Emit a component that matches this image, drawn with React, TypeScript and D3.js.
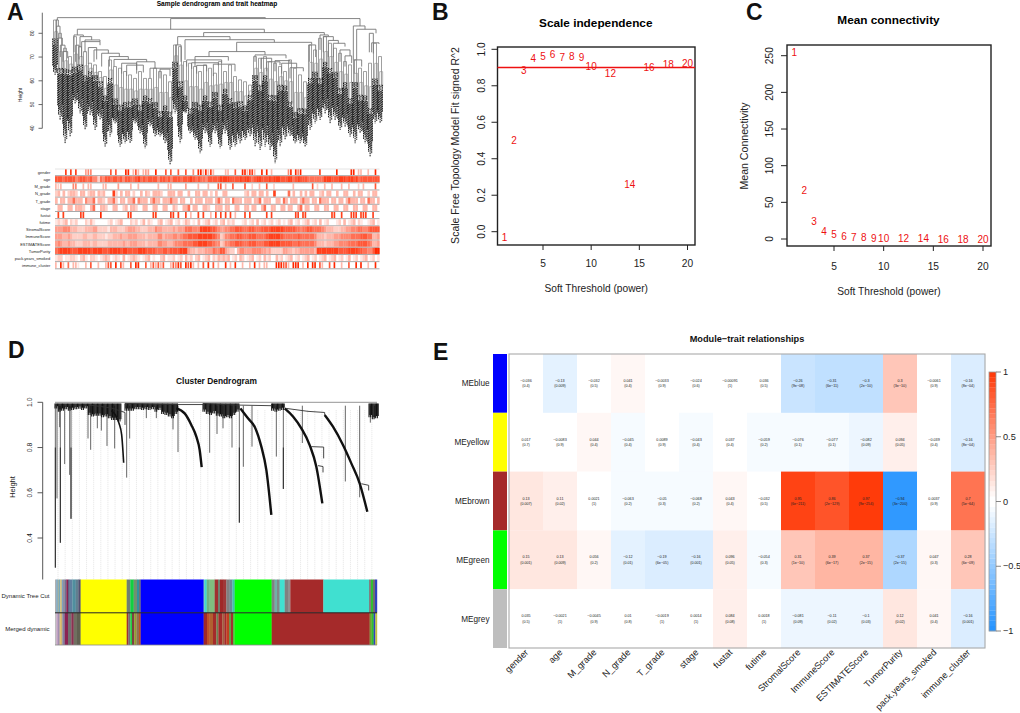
import React from "react";
import * as d3 from "d3";

const FONT = "'Liberation Sans', Arial, sans-serif";

/* ---------- Panel B / C ---------- */
const powers = [1, 2, 3, 4, 5, 6, 7, 8, 9, 10, 12, 14, 16, 18, 20];
const scaleFit = [-0.03, 0.5, 0.887, 0.95, 0.96, 0.97, 0.958, 0.96, 0.954, 0.908, 0.868, 0.26, 0.9, 0.918, 0.923];
const meanConn = [254, 67, 24.5, 11, 6.4, 4, 2.7, 1.8, 1.2, 0.9, 0.5, 0.3, 0.2, 0.1, 0.1];
const fitTicks = [0, 0.2, 0.4, 0.6, 0.8, 1];
const connTicks = [0, 50, 100, 150, 200, 250];
const powerTicks = [5, 10, 15, 20];

/* ---------- Panel E ---------- */
const modules = ["MEblue", "MEyellow", "MEbrown", "MEgreen", "MEgrey"];
const moduleColors = ["#0000FF", "#FFFF00", "#A52A2A", "#00FF00", "#BEBEBE"];
const traits = ["gender", "age", "M_grade", "N_grade", "T_grade", "stage", "fustat", "futime", "StromalScore", "ImmuneScore", "ESTIMATEScore", "TumorPurity", "pack.years_smoked", "immune_cluster"];
const corBlue = [-0.036, -0.13, -0.032, 0.041, -0.0033, -0.024, -0.00091, 0.036, -0.26, -0.31, -0.3, 0.3, -0.0061, -0.16];
const corYellow = [0.017, -0.0083, 0.044, -0.045, 0.0089, -0.043, 0.037, -0.059, -0.076, -0.077, -0.082, 0.094, -0.039, -0.16];
const corBrown = [0.13, 0.11, 0.0021, -0.063, -0.05, -0.068, 0.043, -0.032, 0.95, 0.86, 0.97, -0.94, 0.0037, 0.7];
const corGreen = [0.15, 0.13, 0.056, -0.12, -0.19, -0.16, 0.096, -0.054, 0.31, 0.39, 0.37, -0.37, 0.047, 0.28];
const corGrey = [0.035, -0.0021, -0.0045, 0.01, -0.0019, 0.0014, 0.084, 0.0018, -0.081, -0.11, -0.1, 0.12, 0.041, -0.16];
const pBlue = ["0.4", "0.009", "0.5", "0.4", "0.9", "0.6", "1", "0.5", "9e-08", "6e-11", "2e-10", "3e-10", "0.9", "8e-04"];
const pYellow = ["0.7", "0.9", "0.4", "0.4", "0.9", "0.4", "0.4", "0.2", "0.1", "0.1", "0.09", "0.05", "0.4", "8e-04"];
const pBrown = ["0.007", "0.02", "1", "0.2", "0.3", "0.2", "0.4", "0.5", "6e-211", "2e-129", "9e-254", "3e-200", "0.9", "5e-64"];
const pGreen = ["0.001", "0.009", "0.2", "0.01", "6e-05", "0.001", "0.05", "0.3", "1e-10", "6e-17", "2e-15", "2e-15", "0.3", "6e-09"];
const pGrey = ["0.5", "1", "0.9", "0.8", "1", "1", "0.08", "1", "0.09", "0.02", "0.03", "0.02", "0.4", "0.001"];
const corRows = [corBlue, corYellow, corBrown, corGreen, corGrey];
const pRows = [pBlue, pYellow, pBrown, pGreen, pGrey];
const barTicks = [1, 0.5, 0, -0.5, -1];

/* ---------- Panel A ---------- */
const heightTicks = [40, 50, 60, 70, 80];
const leafTops = [75.8, 64.6, 63.2, 63.9, 63.9, 66, 60.4, 63.2, 60.4, 58.9, 51.9, 60.4, 50.5, 49.1, 49.1, 50.5, 50.5, 49.1, 51.9, 51.9, 49.1, 46.3, 47.7, 46.3, 66, 58.9, 51.9, 47.7, 49.1, 49.1, 51.9, 50.5, 53.3, 49.1, 54.7, 51.9, 49.1, 50.5, 47.7, 53.3, 60.4, 57.5, 60.4, 53.3, 51.9, 57.5, 56.1, 50.5, 44.9, 47.7, 46.3, 60.4, 61.8, 60.4, 66, 64.6, 61.8, 56.1, 57.5, 51.9, 57.5, 53.3, 51.9, 47.7, 58.9, 57.5];
const leafBottoms = [62.5, 43.5, 33.7, 36.5, 50.5, 46.3, 39.3, 45.6, 39.3, 43.5, 32.3, 36.5, 42.1, 32.3, 33.7, 33.7, 42.1, 37.9, 31.6, 40.7, 36.5, 36.5, 33.7, 24.6, 46.3, 33.7, 46.3, 37.9, 35.1, 29.5, 37.9, 32.3, 37.9, 31.6, 37.9, 30.9, 32.3, 33.7, 35.1, 36.5, 32.3, 30.9, 32.3, 30.9, 25.3, 32.3, 35.1, 36.5, 33.7, 33.7, 32.3, 39.3, 42.1, 43.5, 46.3, 42.1, 43.5, 39.3, 40.7, 36.5, 33.7, 37.9, 33.7, 28.1, 42.1, 42.1];
const stemTops = [85.6, 80, 73.7, 70.2, 78.6, 74.4, 72.3, 67.4, 66.7, 63.9, 61.8, 68.8, 66, 65.3, 63.9, 62.5, 61, 63.9, 61, 61, 65.3, 63.9, 62.5, 59.6, 75.1, 74.4, 68.1, 67.4, 66, 63.9, 66.7, 65.3, 63.2, 68.1, 63.9, 66.7, 61.8, 60.4, 59.6, 58.2, 70.2, 69.5, 70.2, 68.1, 67.4, 66, 63.9, 68.8, 65.3, 62.5, 59.6, 75.1, 73, 77.9, 78.6, 75.8, 73.7, 71.6, 68.1, 66.7, 68.8, 65.3, 63.9, 67.4, 75.8, 70.2];
// [left rank, right rank, merge height, left child height, right child height]
const sampleLinks = [
  [7, 631, 86.6, 85.6, 86.2], [347, 915, 86.2, 81.7, 83.1], [67, 628, 81.7, 79.3, 80.3],
  [3, 10, 85.6, 75.8, 83], [5, 15, 83, 74, 78], [10, 22, 78, 72, 75], [16, 30, 75, 70, 72.3], [24, 38, 72.3, 68, 69.5],
  [57, 85, 79.3, 72, 78.6], [75, 110, 78.6, 74, 77.2], [90, 135, 77.2, 72, 76.5], [62, 72, 75, 68, 69], [80, 135, 76.5, 70, 75],
  [117, 160, 73, 68, 71.6], [140, 193, 71.6, 66, 70.2], [163, 220, 70.2, 66, 69], [177, 275, 69, 66, 68], [200, 245, 67.4, 63, 64.6],
  [245, 300, 68, 63, 65.3], [285, 360, 65.3, 61, 64.9], [315, 345, 64.9, 61, 62], [215, 265, 66.6, 62, 63.5], [100, 125, 74, 67, 69],
  [446, 808, 80.3, 78.6, 79.3], [368, 525, 78.6, 75.1, 77.3], [390, 658, 77.3, 68.8, 76.2], [545, 770, 76.2, 72.3, 75.3],
  [462, 630, 72.3, 70.2, 70.9], [600, 693, 70.9, 68, 69.5], [362, 378, 75.1, 68, 68], [395, 500, 68.8, 66, 67.6],
  [410, 490, 67.6, 65, 66.5], [425, 455, 66.5, 63, 64], [420, 520, 70.2, 66, 68.5], [475, 540, 67, 62, 64], [618, 650, 69.5, 65, 68],
  [635, 675, 68, 64, 66.6], [660, 705, 68.5, 64, 67.4], [680, 725, 67.4, 63, 65.5], [705, 745, 65.5, 61, 64],
  [763, 782, 75.1, 68, 70], [795, 820, 79.3, 73, 78.6], [805, 835, 78.6, 72, 77], [820, 850, 77, 70, 75.8], [835, 870, 75.8, 70, 74.4],
  [855, 885, 73, 68, 70.5], [870, 890, 70.5, 66, 67.5],
  [895, 930, 83.1, 68.8, 81.7], [905, 963, 81.7, 68.8, 80], [898, 920, 68.8, 63, 66], [950, 972, 76, 72, 75.5], [943, 955, 80, 72, 71.5]
];
const heatLabels = ["gender", "age", "M_grade", "N_grade", "T_grade", "stage", "fustat", "futime", "StromalScore", "ImmuneScore", "ESTIMATEScore", "TumorPurity", "pack.years_smoked", "immune_cluster"];
const sparseRows = ["gender", "fustat", "M_grade", "immune_cluster"];
const heatLeft = [
  "000080808000455000000070700099037303440090007070070070050993938300",
  "777677775677667552657767767577667867677775776757776777876766577777",
  "323000055003033000033000040000300300000003000330000040000300030007",
  "230302332033023303230008203033020030320333200333033003003303302030",
  "303303363330533603320336203303360533303633033363303300303330333036",
  "033003303332003600332003300230332003300330033003200336033003320033",
  "080800000088000000900000000008800000000880000088080080300808003080",
  "121230212000213100000120123000212013021002301230120132010301230120",
  "444555333222333442222133322234443322233354433334344466655588887765",
  "444334322223322332221223334334444333233335534445545667777888888765",
  "454334332223332332222333333433444333233335544334555666677888877655",
  "678888777888887888877788887887777888777766677677778884332333444655",
  "122011221023102210123201210301232101230100230112012031202301230213",
  "309306033100307003003770907300709900703737370037597097930307090703"
];
const heatRight = [
  "003300700993883009090300000059095900000008000000900000990330030090",
  "888877778788767887778788877788678777666666688877788878878677777777",
  "703007000070020030070020000000300000007020030030003003000203000070",
  "033000000023033033030080000060300303033002303300300330030330020330",
  "303306333033303360333003306303330363303306333033033036333033063303",
  "303300330033033003600330033033003603300330033003300330033003300330",
  "808080300080800000080800000000088088000000000088008000888088800800",
  "230212000120120301201201201023012012301203012000120301230210012301",
  "445566777666776667777888887777766566776666543332223344555665567777",
  "235566677666777666678888876666667666666533323334445555666677766334",
  "235566777666777666778888877777667666666533323334455556666777765334",
  "774322035544455554434222224433233444444388888888877778888776655799",
  "232301203201230120312003120123012012301201230123012013012012301201",
  "009030900300309030330009997730999030909907300709003007009090030090"
];

/* ---------- Panel D ---------- */
const clusterTicks = [0.4, 0.6, 0.8, 1];
const fringePos = [166, 176, 186, 196, 206, 216, 226, 236, 246, 256, 266, 276, 286, 296, 306, 316, 326, 336, 346, 356, 376, 386, 396, 406, 416, 426, 436, 446, 456, 466, 476, 486, 496, 506, 516, 526, 610, 620, 630, 640, 650, 660, 670, 680, 690, 700, 710, 816, 826, 836, 846, 1108, 1118, 1128];
const fringeBottom = [0.973, 0.958, 0.963, 0.969, 0.963, 0.966, 0.969, 0.971, 0.966, 0.973, 0.944, 0.937, 0.94, 0.94, 0.934, 0.937, 0.929, 0.922, 0.922, 0.915, 0.963, 0.963, 0.963, 0.969, 0.969, 0.966, 0.969, 0.966, 0.969, 0.958, 0.966, 0.948, 0.944, 0.937, 0.929, 0.948, 0.958, 0.948, 0.944, 0.951, 0.94, 0.937, 0.929, 0.934, 0.929, 0.944, 0.958, 0.963, 0.958, 0.963, 0.966, 0.934, 0.925, 0.929];
const spikePos = [167, 172, 180, 182, 195, 210, 214, 265, 273, 293, 305, 322, 345, 381, 390, 440, 470, 520, 535, 630, 652, 670, 697, 719, 731, 757, 830, 851, 908, 1037, 1080, 1112, 1125];
const spikeLow = [0.269, 0.575, 0.89, 0.379, 0.727, 0.679, 0.485, 0.84, 0.79, 0.885, 0.875, 0.807, 0.796, 0.667, 0.84, 0.93, 0.93, 0.88, 0.78, 0.777, 0.86, 0.885, 0.8, 0.468, 0.715, 0.804, 0.76, 0.617, 0.82, 0.65, 0.58, 0.91, 0.93];
const spikeDark = [167, 182, 214, 719, 851];
const yellowBranch = [[335, 0.963], [350, 0.937], [358, 0.907], [366, 0.856], [372, 0.733]];
const blueBranch = [[530, 0.973], [555, 0.951], [575, 0.9], [590, 0.848], [600, 0.789], [606, 0.713]];
const greenBranch = [[722, 0.973], [745, 0.929], [765, 0.892], [785, 0.804], [800, 0.701], [815, 0.502]];
const brownBranch = [[855, 0.973], [880, 0.937], [905, 0.885], [930, 0.811], [950, 0.715], [968, 0.553]];
const turquoiseBranch = [[975, 0.944], [1000, 0.892], [1030, 0.811], [1055, 0.73], [1080, 0.642], [1103, 0.516]];
const connectors = [
  [[270, 0.988], [335, 0.975], [376, 0.955], [376, 0.9]], [[860, 0.973], [925, 0.96], [975, 0.955], [975, 0.944]],
  [[610, 0.995], [705, 0.988], [815, 0.985]], [[935, 0.804], [972, 0.802], [972, 0.752]], [[955, 0.72], [970, 0.716], [970, 0.69]],
  [[1085, 0.64], [1107, 0.633], [1107, 0.61]], [[376, 0.995], [530, 0.99], [610, 0.99]]
];
const treeCutStripes: [number, string][] = [
  [170, "#b0b0b0"], [174, "#70a0c0"], [178, "#a0b0a0"], [182, "#77aabb"], [186, "#e0c060"], [190, "#80a0c0"], [195, "#9090a0"], [200, "#707090"], [205, "#8b2252"], [210, "#606080"], [218, "#5f7f9f"], [228, "#4f8f9f"], [236, "#607f8f"], [243, "#505070"],
  [381, "#FFFF00"], [392, "#708070"], [402, "#10d040"], [412, "#709070"], [418, "#3090a0"], [423, "#707070"], [612, "#0000FF"],
  [616, "#70d0c0"], [621, "#40d8d0"], [630, "#70b080"], [645, "#80bf80"], [655, "#a03030"], [661, "#708070"], [670, "#a02828"], [680, "#a03838"], [690, "#808080"], [698, "#6a8a9a"], [705, "#40c0b0"],
  [816, "#00FF00"], [825, "#808080"], [832, "#70b0a8"], [840, "#808888"], [855, "#40E0D0"], [865, "#808080"], [872, "#909090"],
  [971, "#A52A2A"], [1108, "#40E0D0"], [1114, "#808080"], [1120, "#30c030"], [1126, "#707070"], [1132, "#3040c0"]
];
const mergedStripes: [number, string][] = [
  [170, "#c0c0c0"], [175, "#c0a0c0"], [180, "#a090b0"], [184, "#e0c070"], [188, "#d0b070"], [195, "#8080a0"], [205, "#8b2252"], [215, "#707070"], [222, "#8b3050"], [232, "#707060"], [243, "#606050"],
  [381, "#FFFF00"], [386, "#a03030"], [392, "#707070"], [397, "#20d040"], [404, "#804040"], [410, "#90a030"], [418, "#907050"], [423, "#c05020"], [612, "#0000FF"],
  [622, "#a02828"], [630, "#c05028"], [640, "#b06030"], [650, "#a52a2a"], [656, "#708050"], [668, "#a52a2a"], [674, "#a06040"], [680, "#a52a2a"], [688, "#c04020"], [694, "#709050"], [700, "#a03030"], [705, "#50c040"],
  [816, "#00FF00"], [1110, "#A52A2A"], [1116, "#70a030"], [1122, "#30c030"], [1127, "#3040c0"], [1132, "#c0c040"]
];

/* ---------- Scales ---------- */
const fmtNum = (v: number) => String(v).replace("-", "\u2212");
const cellColor = (v: number) => {
  const t = Math.trunc(v / 0.04) * 0.04;
  return t >= 0 ? d3.interpolateRgb("#FFFFFF", "#FF3300")(t) : d3.interpolateRgb("#FFFFFF", "#1E90FF")(-t);
};
const heatColor = (n: number) => d3.interpolateRgb("#FFFFFF", "#FF2800")(n / 9);

const xB = d3.scaleLinear().domain([5, 20]).range([543, 687.5]);
const yB = d3.scaleLinear().domain([0, 1]).range([231.7, 49.3]);
const xC = d3.scaleLinear().domain([5, 20]).range([834, 983]);
const yC = d3.scaleLinear().domain([0, 250]).range([239, 55.7]);
const xE = d3.scaleBand<string>().domain(traits).range([509, 985]);
const yE = d3.scaleBand<string>().domain(modules).range([354, 648]);
const yBar = d3.scaleLinear().domain([-1, 1]).range([631, 372]);
const xA = d3.scaleLinear().domain([0, 975]).range([55, 380]);
const yA = d3.scaleLinear().domain([40, 80]).range([128.3, 33.3]);
const yHeat = d3.scaleBand<string>().domain(heatLabels).range([169, 269.3]);
const xD = d3.scaleLinear().domain([166, 1132]).range([55, 377]);
const yD = d3.scaleLinear().domain([0.4, 1]).range([538, 402.3]);
const guides = d3.range(175, 1132, 21.4);
const lineD = d3.line<number[]>().x((p) => xD(p[0])).y((p) => yD(p[1])).curve(d3.curveLinear);
const curveD = d3.line<number[]>().x((p) => xD(p[0])).y((p) => yD(p[1])).curve(d3.curveMonotoneX);
const barLevels = d3.range(-1, 1, 0.04);

const Label = (p: any) => <text fontFamily={FONT} fill="#000" {...p} />;

function ScatterPanel({ title, titleY, x, y, values, yTicks, box, yTickX, yLabel, yLabelX, yLabelY, xTickY, xLabelY, hline, tickFmt, tickSize, yLabelSize }: any) {
  const cx = (box[0] + box[2]) / 2;
  return (
    <g fontFamily={FONT}>
      <rect x={box[0]} y={box[1]} width={box[2] - box[0]} height={box[3] - box[1]} fill="none" stroke="#222" strokeWidth={1.4} />
      <Label x={cx - 0.5} y={titleY} textAnchor="middle" fontSize={11.8} fontWeight="bold">{title}</Label>
      {powerTicks.map((t) => (
        <g key={t}>
          <line x1={x(t)} x2={x(t)} y1={box[3]} y2={box[3] + 5} stroke="#222" strokeWidth={1} />
          <Label x={x(t)} y={xTickY} textAnchor="middle" fontSize={tickSize} fill="#222">{t}</Label>
        </g>
      ))}
      {yTicks.map((t: number) => (
        <g key={t}>
          <line x1={box[0] - 6} x2={box[0]} y1={y(t)} y2={y(t)} stroke="#222" strokeWidth={1} />
          <Label transform={`translate(${yTickX},${y(t)}) rotate(-90)`} textAnchor="middle" fontSize={tickSize} fill="#222">{tickFmt(t)}</Label>
        </g>
      ))}
      <Label x={cx} y={xLabelY} textAnchor="middle" fontSize={10.2} fill="#222">Soft Threshold (power)</Label>
      <Label transform={`translate(${yLabelX},${yLabelY}) rotate(-90)`} textAnchor="middle" fontSize={yLabelSize} fill="#222">{yLabel}</Label>
      {hline !== undefined && <line x1={box[0]} x2={box[2]} y1={y(hline)} y2={y(hline)} stroke="#EE1111" strokeWidth={1.4} />}
      {powers.map((pw, i) => (
        <text key={pw} x={x(pw)} y={y(values[i]) + 3.7} textAnchor="middle" fontSize={10} fill="#EE1111" fontFamily={FONT}>{pw}</text>
      ))}
    </g>
  );
}

const leafOffsets = [-2.3, -1.5, -0.7, 0.1, 0.9, 1.7, 2.4];
const leafDepth = [0.72, 0.9, 0.8, 1, 0.86, 0.94, 0.68];

function SampleDendrogram() {
  return (
    <g>
      <Label x={217} y={5.5} textAnchor="middle" fontSize={6.6} fontWeight="bold">Sample dendrogram and trait heatmap</Label>
      <line x1={42.3} x2={42.3} y1={12.7} y2={128.3} stroke="#444" strokeWidth={0.8} />
      {heightTicks.map((t) => (
        <g key={t}>
          <line x1={38.5} x2={42.3} y1={yA(t)} y2={yA(t)} stroke="#444" strokeWidth={0.8} />
          <Label transform={`translate(33.5,${yA(t)}) rotate(-90)`} textAnchor="middle" fontSize={5} fill="#222">{t}</Label>
        </g>
      ))}
      <Label transform={`translate(22,95) rotate(-90)`} textAnchor="middle" fontSize={5} fill="#222">Height</Label>
      <g filter="url(#soft)">
        {leafTops.map((top, i) => {
          const cx = i * 15;
          const bot = leafBottoms[i];
          return (
            <g key={i}>
              <path d={`M${xA(cx - 4.5)},${yA(top)}V${yA(stemTops[i])}H${xA(cx + 4.5)}V${yA(top)}`} fill="none" stroke="#777" strokeWidth={0.7} />
              <path d={`M${xA(cx - 1)},${yA(top)}V${yA(top + (stemTops[i] - top) * 0.5)}H${xA(cx + 8)}V${yA(top)}`} fill="none" stroke="#8a8a8a" strokeWidth={0.6} />
              {leafOffsets.map((o, k) => {
                const topK = top - ((i + k * 2) % 4) * 1.2 + 2;
                return (
                  <line key={k} x1={xA(cx) + o} x2={xA(cx) + o} y1={yA(topK)} y2={yA(top - (top - bot) * leafDepth[k])}
                    stroke="#0c0c0c" strokeWidth={0.95} strokeDasharray="1.6 0.7" strokeDashoffset={(i * 2 + k * 3) % 4 * 0.55} />
                );
              })}
            </g>
          );
        })}
        {sampleLinks.map((l, i) => (
          <path key={i} d={`M${xA(l[0])},${yA(l[3])}V${yA(l[2])}H${xA(l[1])}V${yA(l[4])}`} fill="none" stroke="#777" strokeWidth={0.9} />
        ))}
      </g>
      <g filter="url(#softer)">
        {heatLabels.map((lab, r) => {
          const y0 = yHeat(lab)!;
          const h = yHeat.bandwidth();
          const L = heatLeft[r];
          const R = heatRight[r];
          const xL = d3.scaleLinear().domain([0, L.length]).range([55, 220]);
          const xR = d3.scaleLinear().domain([0, R.length]).range([220, 379.5]);
          const widthF = sparseRows.includes(lab) ? 0.6 : 1;
          return (
            <g key={lab}>
              {L.split("").map((c, i) => +c > 0 && <rect key={"l" + i} x={xL(i)} y={y0} width={(xL(1) - xL(0)) * widthF + 0.2} height={h - 1} fill={heatColor(+c)} />)}
              {R.split("").map((c, i) => +c > 0 && <rect key={"r" + i} x={xR(i)} y={y0} width={(xR(1) - xR(0)) * widthF + 0.2} height={h - 1} fill={heatColor(+c)} />)}
              <line x1={55} x2={379.5} y1={y0 + h - 0.5} y2={y0 + h - 0.5} stroke="#a8a8a8" strokeWidth={1} />
            </g>
          );
        })}
        <line x1={55} x2={379.5} y1={169} y2={169} stroke="#ddd" strokeWidth={0.8} />
      </g>
      {heatLabels.map((lab) => (
        <Label key={lab} x={50.3} y={yHeat(lab)! + yHeat.bandwidth() / 2 + 1.4} textAnchor="end" fontSize={4} fill="#222">{lab}</Label>
      ))}
    </g>
  );
}

function ClusterDendrogram() {
  const barTop = 579.5, barMid = 612.8, barBottom = 645;
  const stripe = (rows: [number, string][], y0: number, y1: number) =>
    rows.map(([edge, col], i) => {
      const start = i === 0 ? 166 : rows[i - 1][0];
      return <rect key={i} x={xD(start)} y={y0} width={xD(edge) - xD(start) + 0.2} height={y1 - y0} fill={col} />;
    });
  return (
    <g>
      <Label x={216.5} y={384} textAnchor="middle" fontSize={8.4} fontWeight="bold" fill="#111">Cluster Dendrogram</Label>
      {guides.map((g, i) => (
        <line key={i} x1={xD(g)} x2={xD(g)} y1={yD(0.965)} y2={barTop} stroke="#e2e2e2" strokeWidth={0.9} strokeDasharray="1 1" />
      ))}
      <line x1={42.7} x2={42.7} y1={402.3} y2={579.5} stroke="#444" strokeWidth={0.9} />
      {clusterTicks.map((t) => (
        <g key={t}>
          <line x1={37.5} x2={42.7} y1={yD(t)} y2={yD(t)} stroke="#444" strokeWidth={0.9} />
          <Label transform={`translate(32,${yD(t)}) rotate(-90)`} textAnchor="middle" fontSize={6.8} fill="#222">{d3.format(".1f")(t)}</Label>
        </g>
      ))}
      <Label transform="translate(14.5,487) rotate(-90)" textAnchor="middle" fontSize={7.5} fill="#222">Height</Label>
      <line x1={xD(166)} x2={xD(1132)} y1={yD(1)} y2={yD(1)} stroke="#aaa" strokeWidth={1.3} />
      {spikePos.map((p, i) => (
        <line key={i} x1={xD(p)} x2={xD(p)} y1={yD(0.985)} y2={yD(spikeLow[i])} stroke="#555" strokeWidth={0.9} />
      ))}
      {spikeDark.map((p, i) => (
        <line key={i} x1={xD(p)} x2={xD(p)} y1={yD(0.8)} y2={yD(spikeLow[spikePos.indexOf(p)])} stroke="#222" strokeWidth={0.9} />
      ))}
      {fringePos.map((p, i) => (
        <g key={i}>
          {[0, 1, 2, 3].map((k) => (
            <line key={k} x1={xD(p) + k * 0.85} x2={xD(p) + k * 0.85} y1={yD(0.995)} y2={yD(fringeBottom[i] + (k % 2) * 0.01)} stroke="#111" strokeWidth={1.05} />
          ))}
        </g>
      ))}
      {connectors.map((c, i) => (
        <path key={i} d={lineD(c)!} fill="none" stroke="#333" strokeWidth={0.9} />
      ))}
      {[yellowBranch, blueBranch, greenBranch, brownBranch, turquoiseBranch].map((b, i) => (
        <path key={i} d={curveD(b)!} fill="none" stroke="#111" strokeWidth={i === 0 ? 1.6 : 2.4} />
      ))}
      {stripe(treeCutStripes, barTop, barMid)}
      {stripe(mergedStripes, barMid, barBottom)}
      <line x1={xD(166)} x2={xD(1132)} y1={barMid} y2={barMid} stroke="#222" strokeWidth={1} />
      <line x1={xD(166)} x2={xD(1132)} y1={barBottom} y2={barBottom} stroke="#888" strokeWidth={0.8} />
      <Label x={49.5} y={597.5} textAnchor="end" fontSize={6} fill="#222">Dynamic Tree Cut</Label>
      <Label x={49.5} y={630.5} textAnchor="end" fontSize={6} fill="#222">Merged dynamic</Label>
    </g>
  );
}

function ModuleTrait() {
  const colW = xE.bandwidth();
  const rowH = yE.bandwidth();
  return (
    <g>
      <Label x={747} y={342} textAnchor="middle" fontSize={9.2} fontWeight="bold" fill="#111">Module{"\u2212"}trait relationships</Label>
      {modules.map((m, r) => (
        <g key={m}>
          <rect x={493} y={yE(m)} width={14} height={rowH} fill={moduleColors[r]} />
          <Label x={489.5} y={yE(m)! + rowH / 2 + 3} textAnchor="end" fontSize={8.2} fill="#222">{m}</Label>
          {traits.map((t, c) => (
            <g key={t}>
              <rect x={xE(t)} y={yE(m)} width={colW + 0.2} height={rowH + 0.2} fill={cellColor(corRows[r][c])} />
              <Label x={xE(t)! + colW / 2} y={yE(m)! + rowH / 2 - 1.4} textAnchor="middle" fontSize={3.7} fill="#222">{fmtNum(corRows[r][c])}</Label>
              <Label x={xE(t)! + colW / 2} y={yE(m)! + rowH / 2 + 3.9} textAnchor="middle" fontSize={3.7} fill="#222">{"(" + pRows[r][c].replace("-", "\u2212") + ")"}</Label>
            </g>
          ))}
        </g>
      ))}
      <rect x={509} y={354} width={476} height={294} fill="none" stroke="#aaa" strokeWidth={1.1} />
      {traits.map((t) => (
        <Label key={t} transform={`translate(${xE(t)! + colW / 2 + 3},${653}) rotate(-45)`} textAnchor="end" fontSize={9.2} fill="#222">{t}</Label>
      ))}
      {barLevels.map((v, i) => (
        <rect key={i} x={989} y={yBar(v + 0.04)} width={7} height={yBar(v) - yBar(v + 0.04) + 0.2} fill={cellColor(Math.abs(v + 0.02) < 0.04 ? 0 : v + 0.02)} />
      ))}
      <rect x={989} y={372} width={7} height={259} fill="none" stroke="#999" strokeWidth={0.8} />
      {barTicks.map((t) => (
        <g key={t}>
          <line x1={996} x2={1001} y1={yBar(t)} y2={yBar(t)} stroke="#666" strokeWidth={0.8} />
          <Label x={1003} y={yBar(t) + 3.2} fontSize={9.2} fill="#222">{fmtNum(t)}</Label>
        </g>
      ))}
    </g>
  );
}

export default function App() {
  return (
    <svg width={1020} height={713} viewBox="0 0 1020 713" style={{ position: "absolute", left: 0, top: 0, background: "#fff" }}>
      <defs>
        <filter id="soft" x="-2%" y="-2%" width="104%" height="104%"><feGaussianBlur stdDeviation="0.4" /></filter>
        <filter id="softer" x="-2%" y="-2%" width="104%" height="104%"><feGaussianBlur stdDeviation="0.3" /></filter>
      </defs>
      <g fontWeight="bold" fontSize={23} fontFamily={FONT} fill="#111">
        <text x={7} y={20}>A</text>
        <text x={432} y={20}>B</text>
        <text x={746} y={20}>C</text>
        <text x={8} y={358}>D</text>
        <text x={433} y={360}>E</text>
      </g>
      <SampleDendrogram />
      <ScatterPanel title="Scale independence" titleY={26.5} x={xB} y={yB} values={scaleFit} yTicks={fitTicks} box={[497.5, 47, 695, 245]}
        yTickX={484.5} yLabel="Scale Free Topology Model Fit signed R^2" yLabelX={459} yLabelY={145.5} yLabelSize={10.5} xTickY={267} xLabelY={292} hline={0.9} tickFmt={d3.format(".1f")} tickSize={10.2} />
      <ScatterPanel title="Mean connectivity" titleY={24} x={xC} y={yC} values={meanConn} yTicks={connTicks} box={[787, 45, 991, 246]}
        yTickX={773} yLabel="Mean Connectivity" yLabelX={747.5} yLabelY={146} yLabelSize={10.6} xTickY={269.5} xLabelY={295} tickFmt={String} tickSize={10.2} />
      <ClusterDendrogram />
      <ModuleTrait />
    </svg>
  );
}
